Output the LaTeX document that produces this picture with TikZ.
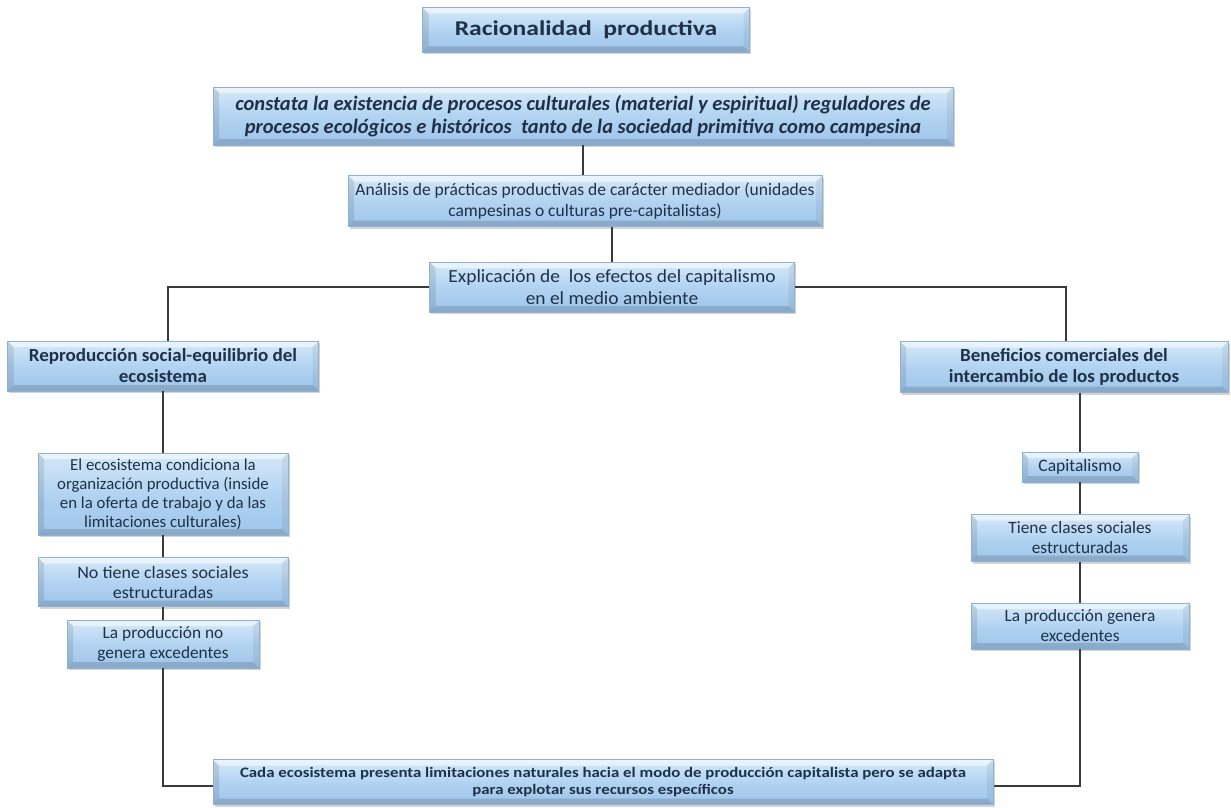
\documentclass[tikz,border=0pt]{standalone}
\usepackage{fontspec}
\setmainfont{Carlito}
\usetikzlibrary{shadows}
\definecolor{boxtop}{HTML}{D6E9F9}
\definecolor{boxmid}{HTML}{B2D3F1}
\definecolor{boxbot}{HTML}{9EC5EA}
\definecolor{boxedge}{HTML}{8DB2D6}
\definecolor{txt}{HTML}{1F3148}
\definecolor{wire}{HTML}{3A3A3A}
\newcommand{\fs}[2]{\fontsize{#1}{#2}\selectfont}
\newcommand{\wide}[1]{\addfontfeature{FakeStretch=#1}}
\tikzset{
  bevelbox/.style={rectangle, draw=boxedge, line width=0.5pt,
    top color=boxtop, bottom color=boxbot, middle color=boxmid,
    drop shadow={opacity=0.35, shadow xshift=1.5pt, shadow yshift=-2pt},
    align=center, text=txt, inner sep=1pt,
    path picture={
      \def\bv{6pt}
      % top bevel
      \fill[white,opacity=0.5] (path picture bounding box.north west) -- (path picture bounding box.north east)
        -- ([xshift=-\bv,yshift=-\bv]path picture bounding box.north east) -- ([xshift=\bv,yshift=-\bv]path picture bounding box.north west) -- cycle;
      % left bevel
      \fill[black,opacity=0.10] (path picture bounding box.north west) -- ([xshift=\bv,yshift=-\bv]path picture bounding box.north west)
        -- ([xshift=\bv,yshift=\bv]path picture bounding box.south west) -- (path picture bounding box.south west) -- cycle;
      % right bevel
      \fill[black,opacity=0.06] (path picture bounding box.north east) -- ([xshift=-\bv,yshift=-\bv]path picture bounding box.north east)
        -- ([xshift=-\bv,yshift=\bv]path picture bounding box.south east) -- (path picture bounding box.south east) -- cycle;
      % bottom bevel
      \fill[black,opacity=0.14] (path picture bounding box.south west) -- ([xshift=\bv,yshift=\bv]path picture bounding box.south west)
        -- ([xshift=-\bv,yshift=\bv]path picture bounding box.south east) -- (path picture bounding box.south east) -- cycle;
    }},
  wire/.style={draw=wire, line width=1.5pt}
}
\begin{document}
\begin{tikzpicture}[x=1pt, y=-1pt]
\useasboundingbox (0,0) rectangle (1231,808);

\coordinate (lnode) at (163,786);

% ---- top column ----
\node[bevelbox, minimum width=327pt, minimum height=45pt, font=\fs{21}{24}\bfseries\wide{1.22}] (title) at (586,30) {Racionalidad\ \ productiva};
\node[bevelbox, minimum width=740pt, minimum height=58pt, font=\fs{20.5}{23}\bfseries\itshape] (constata) at (583,116)
  {constata la existencia de procesos culturales (material y espiritual) reguladores de\\ procesos ecológicos e históricos\ \ tanto de la sociedad primitiva como campesina};
\node[bevelbox, minimum width=474pt, minimum height=51pt, font=\fs{17.5}{21}] (analisis) at (585,201)
  {Análisis de prácticas productivas de carácter mediador (unidades\\ campesinas o culturas pre-capitalistas)};
\node[bevelbox, minimum width=365pt, minimum height=50pt, font=\fs{18.5}{22}\wide{1.05}] (explic) at (612,287)
  {Explicación de\ \ los efectos del capitalismo\\ en el medio ambiente};

% ---- left column ----
\node[bevelbox, minimum width=311pt, minimum height=50pt, font=\fs{18.5}{21}\bfseries\wide{1.03}] (repro) at (163,366)
  {Reproducción social-equilibrio del\\ ecosistema};
\node[bevelbox, minimum width=250pt, minimum height=82pt, font=\fs{16.8}{19}] (eco) at (163,494)
  {El ecosistema condiciona la\\ organización productiva (inside\\ en la oferta de trabajo y da las\\ limitaciones culturales)};
\node[bevelbox, minimum width=250pt, minimum height=49pt, font=\fs{17.5}{20}\wide{1.03}] (notiene) at (163,582)
  {No tiene clases sociales\\ estructuradas};
\node[bevelbox, minimum width=192pt, minimum height=48pt, font=\fs{17.3}{20}] (nogen) at (163,644)
  {La producción no\\ genera excedentes};

% ---- right column ----
\node[bevelbox, minimum width=328pt, minimum height=51pt, font=\fs{18.5}{21}\bfseries\wide{1.03}] (benef) at (1064,367)
  {Beneficios comerciales del\\ intercambio de los productos};
\node[bevelbox, minimum width=116pt, minimum height=30pt, font=\fs{17.5}{20}] (capit) at (1080,467)
  {Capitalismo};
\node[bevelbox, minimum width=218pt, minimum height=47pt, font=\fs{17.3}{20}] (tiene) at (1080,538)
  {Tiene clases sociales\\ estructuradas};
\node[bevelbox, minimum width=218pt, minimum height=46pt, font=\fs{17.3}{20}] (sigen) at (1080,626)
  {La producción genera\\ excedentes};

% ---- connectors ----
\draw[wire] (constata.south) -- (constata.south |- analisis.north);
\draw[wire] (analisis.south -| explic.north) -- (explic.north);
\draw[wire] (explic.west) -| ([xshift=5pt]repro.north);
\draw[wire] (explic.east) -| ([xshift=2pt]benef.north);
\draw[wire] (repro.south) -- (eco.north);
\draw[wire] (eco.south) -- (notiene.north);
\draw[wire] (notiene.south) -- (nogen.north);
\draw[wire] (benef.south -| capit.north) -- (capit.north);
\draw[wire] (capit.south) -- (tiene.north);
\draw[wire] (tiene.south) -- (sigen.north);
\draw[wire] (nogen.south) -- (lnode) -| (sigen.south);

% ---- bottom box, laid over the closing line ----
\node[bevelbox, minimum width=780pt, minimum height=45pt, font=\fs{14.5}{17}\bfseries\wide{1.16}] (cada) at (603,782)
  {Cada ecosistema presenta limitaciones naturales hacia el modo de producción capitalista pero se adapta\\ para explotar sus recursos específicos};
\end{tikzpicture}
\end{document}
